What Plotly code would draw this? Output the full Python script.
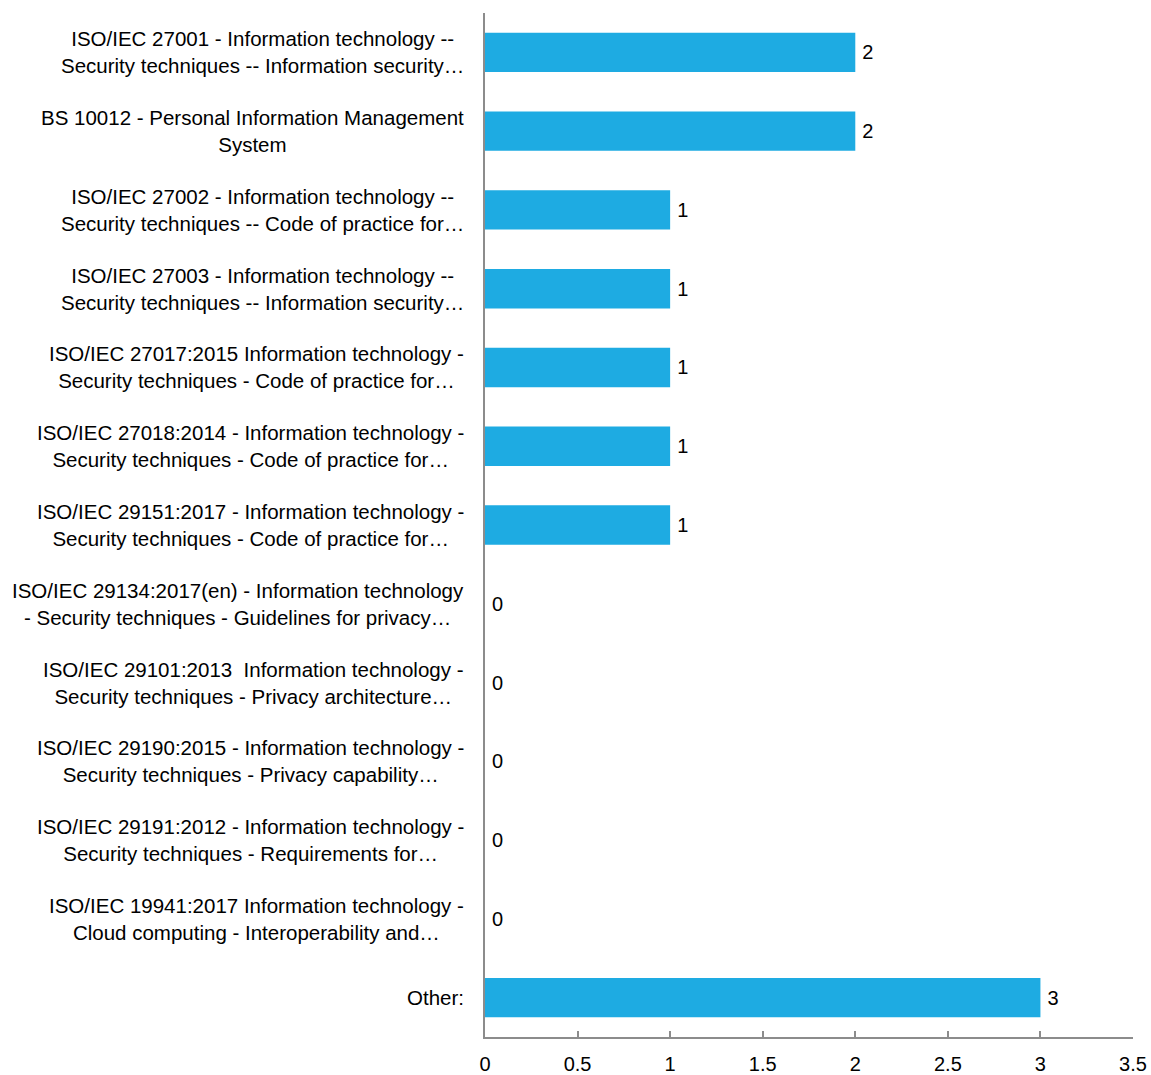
import plotly.graph_objects as go

categories = [
    "ISO/IEC 27001 - Information technology --\nSecurity techniques -- Information security…",
    "BS 10012 - Personal Information Management\nSystem",
    "ISO/IEC 27002 - Information technology --\nSecurity techniques -- Code of practice for…",
    "ISO/IEC 27003 - Information technology --\nSecurity techniques -- Information security…",
    "ISO/IEC 27017:2015 Information technology -\nSecurity techniques - Code of practice for…",
    "ISO/IEC 27018:2014 - Information technology -\nSecurity techniques - Code of practice for…",
    "ISO/IEC 29151:2017 - Information technology -\nSecurity techniques - Code of practice for…",
    "ISO/IEC 29134:2017(en) - Information technology\n- Security techniques - Guidelines for privacy…",
    "ISO/IEC 29101:2013  Information technology -\nSecurity techniques - Privacy architecture…",
    "ISO/IEC 29190:2015 - Information technology -\nSecurity techniques - Privacy capability…",
    "ISO/IEC 29191:2012 - Information technology -\nSecurity techniques - Requirements for…",
    "ISO/IEC 19941:2017 Information technology -\nCloud computing - Interoperability and…",
    "Other:",
]
values = [2, 2, 1, 1, 1, 1, 1, 0, 0, 0, 0, 0, 3]
x_ticks = [0, 0.5, 1, 1.5, 2, 2.5, 3, 3.5]

FONT = "Liberation Sans"
FS_CAT = 20.5
FS = 20
BAR_COLOR = "#1EABE2"
AXIS_COLOR = "#8C8C8C"

fig = go.Figure()
fig.add_trace(go.Bar(
    x=values,
    y=list(range(len(categories))),
    orientation="h",
    marker=dict(color=BAR_COLOR, line=dict(width=0)),
    text=[str(v) for v in values],
    texttemplate="\u2009%{text}",
    textposition="outside",
    cliponaxis=False,
    textfont=dict(family=FONT, size=FS, color="#000000"),
    width=0.5,
    hoverinfo="skip",
))

for i, c in enumerate(categories):
    fig.add_annotation(
        x=0, y=i, xref="x", yref="y",
        text=c.replace("\n", "<br>"),
        xanchor="right", yanchor="middle", align="center",
        xshift=-19, showarrow=False,
        font=dict(family=FONT, size=FS_CAT, color="#000000"),
    )

fig.update_layout(
    width=1151, height=1075,
    margin=dict(l=485, r=18, t=13, b=38, autoexpand=False),
    plot_bgcolor="white", paper_bgcolor="white",
    showlegend=False,
    font=dict(family=FONT, size=FS, color="#000000"),
)
fig.update_xaxes(
    range=[0, 3.5], tickvals=x_ticks, ticktext=[str(t) for t in x_ticks],
    showgrid=False, zeroline=False, automargin=False,
    showline=True, linecolor=AXIS_COLOR, linewidth=1.5,
    ticks="inside", ticklen=6, tickcolor=AXIS_COLOR, tickwidth=1.5,
    ticklabelstandoff=8,
    tickfont=dict(family=FONT, size=FS, color="#000000"),
)
fig.update_yaxes(
    range=[len(categories) - 0.5, -0.5], automargin=False,
    showticklabels=False, showgrid=False, zeroline=False,
    showline=True, linecolor=AXIS_COLOR, linewidth=1.5, ticks="",
)

fig.write_html(
    "out.html",
    config={"displayModeBar": False},
    post_script="document.body.style.margin='0';document.body.style.overflow='hidden';",
)
